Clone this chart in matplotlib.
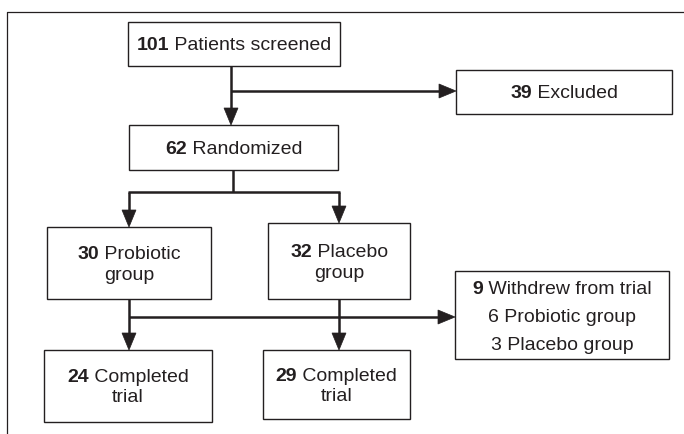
import matplotlib
matplotlib.use("Agg")
import matplotlib.pyplot as plt
from matplotlib.patches import Rectangle, Polygon

plt.rcParams['font.family'] = ['Liberation Sans', 'DejaVu Sans']

# box texts: (bold number, rest of first line, further lines)
screened = ("101", "Patients screened", [])
excluded = ("39", "Excluded", [])
randomized = ("62", "Randomized", [])
probiotic = ("30", "Probiotic", ["group"])
placebo = ("32", "Placebo", ["group"])
withdrew = ("9", "Withdrew from trial", ["6 Probiotic group", "3 Placebo group"])
done_pro = ("24", "Completed", ["trial"])
done_pla = ("29", "Completed", ["trial"])

INK = "#231f20"
FS = 14

fig = plt.figure(figsize=(6.84, 4.34), dpi=100)
ax = fig.add_axes([0, 0, 1, 1])
ax.set_xlim(0, 684)
ax.set_ylim(434, 0)
ax.axis("off")

# outer frame (left and top only visible)
ax.plot([7, 7, 684], [434, 12, 12], color=INK, lw=0.9)

fig.canvas.draw()
renderer = fig.canvas.get_renderer()


def text_width(s, weight):
    t = ax.text(0, 0, s, fontsize=FS, fontweight=weight)
    w = t.get_window_extent(renderer).width
    t.remove()
    return w


def box(x0, y0, x1, y1, content, line_gap=21):
    ax.add_patch(Rectangle((x0, y0), x1 - x0, y1 - y0, fill=False,
                           ec=INK, lw=1.0))
    num, rest, more = content
    n_lines = 1 + len(more)
    cx = (x0 + x1) / 2
    cy = (y0 + y1) / 2 - (n_lines - 1) * line_gap / 2
    wb = text_width(num, "bold")
    wr = text_width(" " + rest, "normal")
    left = cx - (wb + wr) / 2
    ax.text(left, cy, num, fontsize=FS, fontweight="bold", color=INK,
            ha="left", va="center_baseline")
    ax.text(left + wb, cy, " " + rest, fontsize=FS, color=INK,
            ha="left", va="center_baseline")
    for i, line in enumerate(more):
        ax.text(cx, cy + (i + 1) * line_gap, line, fontsize=FS, color=INK,
                ha="center", va="center_baseline")


def line(xs, ys):
    ax.plot(xs, ys, color=INK, lw=1.8, solid_capstyle="butt")


def arrow_down(x, y0, y1):
    line([x, x], [y0, y1 - 15])
    ax.add_patch(Polygon([[x - 7, y1 - 17], [x + 7, y1 - 17], [x, y1]],
                         closed=True, fc=INK, ec=INK, lw=0.5))


def arrow_right(x0, x1, y):
    line([x0, x1 - 15], [y, y])
    ax.add_patch(Polygon([[x1 - 17, y - 7], [x1 - 17, y + 7], [x1, y]],
                         closed=True, fc=INK, ec=INK, lw=0.5))


box(128, 22, 340, 66, screened)
box(456, 70, 672, 114, excluded)
box(129, 125, 338, 170, randomized)
box(47, 227, 211, 299, probiotic)
box(268, 223, 410, 299, placebo)
box(455, 271, 669, 359, withdrew, line_gap=28)
box(44, 350, 212, 422, done_pro, line_gap=20)
box(263, 350, 410, 419, done_pla, line_gap=20)

# screened -> randomized, excluded
arrow_down(231, 66, 125)
arrow_right(231, 456, 91)

# randomized -> groups
line([233, 233], [170, 192])
line([128, 340], [192, 192])
arrow_down(129, 192, 227)
arrow_down(339, 192, 223)

# groups -> completed, withdrew
arrow_down(129, 299, 350)
arrow_down(339, 299, 350)
arrow_right(129, 455, 317)

fig.savefig("out.png", dpi=100)
